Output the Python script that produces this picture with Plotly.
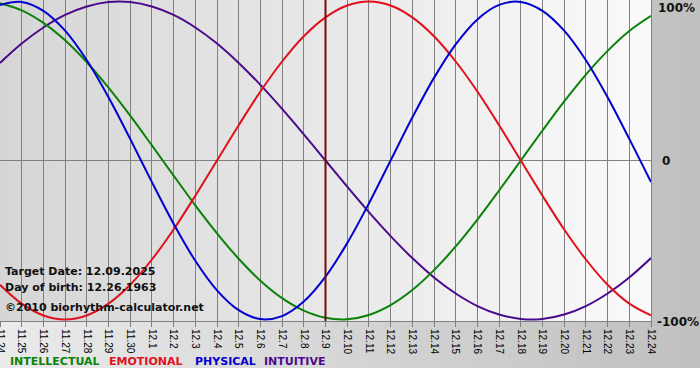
import plotly.graph_objects as go

dates = ["11.24", "11.25", "11.26", "11.27", "11.28", "11.29", "11.30",
         "12.1", "12.2", "12.3", "12.4", "12.5", "12.6", "12.7", "12.8", "12.9",
         "12.10", "12.11", "12.12", "12.13", "12.14", "12.15", "12.16", "12.17",
         "12.18", "12.19", "12.20", "12.21", "12.22", "12.23", "12.24"]

physical = [0.979, 0.998, 0.942, 0.817, 0.631, 0.398, 0.136, -0.136, -0.398, -0.631,
            -0.817, -0.942, -0.998, -0.979, -0.888, -0.731, -0.520, -0.270, 0.0, 0.270,
            0.520, 0.731, 0.888, 0.979, 0.998, 0.942, 0.817, 0.631, 0.398, 0.136, -0.136]
emotional = [-0.782, -0.901, -0.975, -1.0, -0.975, -0.901, -0.782, -0.623, -0.434, -0.222,
             0.0, 0.222, 0.434, 0.623, 0.782, 0.901, 0.975, 1.0, 0.975, 0.901,
             0.782, 0.623, 0.434, 0.222, 0.0, -0.222, -0.434, -0.623, -0.782, -0.901, -0.975]
intellectual = [0.990, 0.945, 0.866, 0.756, 0.618, 0.458, 0.282, 0.095, -0.095, -0.282,
                -0.458, -0.618, -0.756, -0.866, -0.945, -0.990, -0.999, -0.972, -0.910, -0.815,
                -0.690, -0.541, -0.372, -0.189, 0.0, 0.189, 0.372, 0.541, 0.690, 0.815, 0.910]
intuitive = [0.614, 0.736, 0.837, 0.916, 0.969, 0.997, 0.997, 0.969, 0.916, 0.837,
             0.736, 0.614, 0.476, 0.325, 0.165, 0.0, -0.165, -0.325, -0.476, -0.614,
             -0.736, -0.837, -0.916, -0.969, -0.997, -0.997, -0.969, -0.916, -0.837, -0.736, -0.614]

target_day = "12.9"
info_lines = ["Target Date: 12.09.2025", "Day of birth: 12.26.1963", "©2010 biorhythm-calculator.net"]
y_labels = ["100%", "0", "-100%"]
legend_names = ["INTELLECTUAL", "EMOTIONAL", "PHYSICAL", "INTUITIVE"]

W, H = 700, 380
ML, MR, MT, MB = 0, 49, 0, 59
PW, PH = W - ML - MR, H - MT - MB

def px(x):
    return (x - ML) / PW

def py(y):
    return (MT + PH - y) / PH

colors = {"INTELLECTUAL": "#0a820a", "EMOTIONAL": "#e0101c",
          "PHYSICAL": "#0000d0", "INTUITIVE": "#4a0a8c"}
series = {"INTELLECTUAL": intellectual, "EMOTIONAL": emotional,
          "PHYSICAL": physical, "INTUITIVE": intuitive}

fig = go.Figure()
for name in ["INTUITIVE", "INTELLECTUAL", "EMOTIONAL", "PHYSICAL"]:
    fig.add_trace(go.Scatter(x=list(range(len(dates))), y=series[name], mode="lines",
                             line=dict(color=colors[name], width=2, shape="spline", smoothing=1.0),
                             showlegend=False, hoverinfo="skip"))

shapes = []
# outer gradient panel (behind everything)
n_out = 40
x0p, x1p = px(0), px(W)
for k in range(n_out):
    t = k / (n_out - 1)
    c = int(round(234 - (234 - 192) * t))
    shapes.append(dict(type="rect", xref="paper", yref="paper", layer="below",
                       x0=x0p + (x1p - x0p) * k / n_out, x1=x0p + (x1p - x0p) * (k + 1) / n_out + 0.002,
                       y0=py(368), y1=py(0), line=dict(width=0),
                       fillcolor=f"rgb({c},{c},{c})"))
# inner plot gradient
n_in = 60
for k in range(n_in):
    t = k / (n_in - 1)
    c = int(round(214 + (250 - 214) * t))
    shapes.append(dict(type="rect", xref="paper", yref="paper", layer="below",
                       x0=k / n_in, x1=(k + 1) / n_in + 0.001, y0=0, y1=1,
                       line=dict(width=0), fillcolor=f"rgb({c},{c},{c})"))
# target day line
ti = dates.index(target_day)
shapes.append(dict(type="line", xref="x", yref="paper", x0=ti, x1=ti, y0=0, y1=1,
                   line=dict(color="#7a0808", width=2), layer="above"))

ann = []
for txt, yy in zip(info_lines, [271, 287, 307]):
    ann.append(dict(text=txt, xref="paper", yref="paper", x=px(3), y=py(yy),
                    xanchor="left", yanchor="middle", showarrow=False,
                    font=dict(family="DejaVu Sans", size=11, color="#101010", weight="bold")))
for txt, xx, yy in zip(y_labels, [656, 660, 655], [8, 161, 322]):
    ann.append(dict(text=txt, xref="paper", yref="paper", x=px(xx), y=py(yy),
                    xanchor="left", yanchor="middle", showarrow=False,
                    font=dict(family="DejaVu Sans", size=12, color="#101010", weight="bold")))
for name, xx in zip(legend_names, [8, 107, 193, 262]):
    ann.append(dict(text=name, xref="paper", yref="paper", x=px(xx), y=py(361),
                    xanchor="left", yanchor="middle", showarrow=False,
                    font=dict(family="DejaVu Sans", size=11, color=colors[name], weight="bold")))

fig.update_layout(
    width=W, height=H, margin=dict(l=ML, r=MR, t=MT, b=MB, autoexpand=False),
    paper_bgcolor="white", plot_bgcolor="rgba(0,0,0,0)",
    shapes=shapes, annotations=ann, showlegend=False,
    xaxis=dict(range=[0, len(dates) - 1], tickmode="array", tickvals=list(range(len(dates))),
               ticktext=dates, tickangle=90, showgrid=True, gridcolor="#808080", gridwidth=1,
               ticks="outside", ticklen=5, tickcolor="#808080", ticklabeloverflow="allow",
               automargin=False,
               tickfont=dict(family="Liberation Sans", size=10, color="#000000"),
               showline=True, linecolor="#808080", mirror=True, zeroline=False, fixedrange=True),
    yaxis=dict(range=[-1.01, 1.01], showticklabels=False, showgrid=False, automargin=False,
               zeroline=True, zerolinecolor="#808080", zerolinewidth=1,
               showline=True, linecolor="#808080", mirror=True, fixedrange=True),
)

fig.write_html("out.html")
